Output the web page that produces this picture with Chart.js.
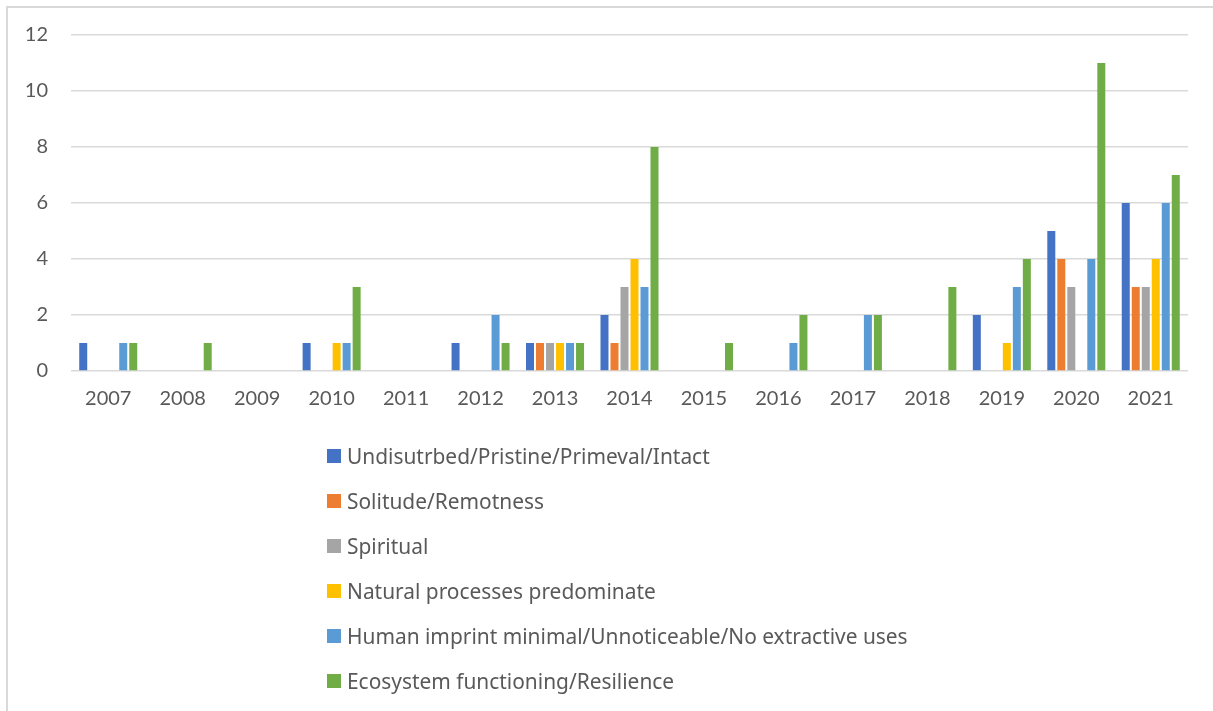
<!DOCTYPE html>
<html>
<head>
<meta charset="utf-8">
<script src="https://cdn.jsdelivr.net/npm/chart.js@4.4.1/dist/chart.umd.min.js"></script>
<style>
  html, body { margin: 0; padding: 0; background: #ffffff; }
  body { width: 1213px; height: 711px; position: relative; overflow: hidden; }
  #frame { position: absolute; left: 6px; top: 6px; width: 1400px; height: 900px;
           border-left: 2px solid #d9d9d9; border-top: 2px solid #d9d9d9; box-sizing: border-box; }
  #wrap { position: absolute; left: 0; top: 0; width: 1213px; height: 711px; }
  #legend { position: absolute; left: 327px; top: 0; margin: 0; padding: 0; list-style: none;
            font-family: "Noto Sans", Lato, sans-serif; font-size: 20.9px; color: #595959; }
  #legend li { position: absolute; left: 0; white-space: nowrap; display: flex; align-items: center; height: 28px; }
  #legend .box { width: 14px; height: 14px; margin-right: 6px; flex: none; }
</style>
</head>
<body>
<div id="frame"></div>
<div id="wrap"><canvas id="chart" width="1213" height="711"></canvas></div>
<ul id="legend"></ul>
<script>
// Years on the category axis
const years = ['2007','2008','2009','2010','2011','2012','2013','2014','2015','2016','2017','2018','2019','2020','2021'];

// Number of mentions per year for each wilderness attribute
const undisturbed = [1, 0, 0, 1, 0, 1, 1, 2, 0, 0, 0, 0, 2, 5, 6];
const solitude    = [0, 0, 0, 0, 0, 0, 1, 1, 0, 0, 0, 0, 0, 4, 3];
const spiritual   = [0, 0, 0, 0, 0, 0, 1, 3, 0, 0, 0, 0, 0, 3, 3];
const natural     = [0, 0, 0, 1, 0, 0, 1, 4, 0, 0, 0, 0, 1, 0, 4];
const humanMin    = [1, 0, 0, 1, 0, 2, 1, 3, 0, 1, 2, 0, 3, 4, 6];
const ecosystem   = [1, 1, 0, 3, 0, 1, 1, 8, 1, 2, 2, 3, 4, 11, 7];

const seriesNames = [
  'Undisutrbed/Pristine/Primeval/Intact',
  'Solitude/Remotness',
  'Spiritual',
  'Natural processes predominate',
  'Human imprint minimal/Unnoticeable/No extractive uses',
  'Ecosystem functioning/Resilience'
];
const seriesValues = [undisturbed, solitude, spiritual, natural, humanMin, ecosystem];
const seriesColors = ['#4472C4', '#ED7D31', '#A5A5A5', '#FFC000', '#5B9BD5', '#70AD47'];

const yTicks = [0, 2, 4, 6, 8, 10, 12];

const tickFont = { family: 'Lato, "Noto Sans", sans-serif', size: 20 };

const chart = new Chart(document.getElementById('chart'), {
  type: 'bar',
  data: {
    labels: years,
    datasets: seriesNames.map((name, i) => ({
      label: name,
      data: seriesValues[i],
      backgroundColor: seriesColors[i],
      borderWidth: 0,
      categoryPercentage: 0.806,
      barPercentage: 0.8
    }))
  },
  options: {
    responsive: false,
    animation: false,
    devicePixelRatio: 1,
    layout: { padding: { left: 0, right: 25, top: 32, bottom: 300 } },
    plugins: { legend: { display: false }, tooltip: { enabled: false } },
    scales: {
      x: {
        grid: { display: false, drawTicks: false },
        border: { display: false },
        ticks: { color: '#595959', font: tickFont, padding: 16, maxRotation: 0, autoSkip: false },
        afterFit: (s) => { s.height = 40; }
      },
      y: {
        min: 0, max: 12,
        afterBuildTicks: (s) => { s.ticks = yTicks.map(v => ({ value: v })); },
        grid: { color: '#d9d9d9', lineWidth: 1.5, drawTicks: false },
        border: { display: false },
        ticks: { color: '#595959', font: tickFont, padding: 23 },
        afterFit: (s) => { s.width = 71; }
      }
    }
  }
});

// Legend list built from the chart's datasets
const legend = document.getElementById('legend');
chart.data.datasets.forEach((ds, i) => {
  const li = document.createElement('li');
  li.style.top = (456 + 45 * i - 14) + 'px';
  const box = document.createElement('span');
  box.className = 'box';
  box.style.background = ds.backgroundColor;
  const txt = document.createElement('span');
  txt.textContent = ds.label;
  li.appendChild(box);
  li.appendChild(txt);
  legend.appendChild(li);
});
</script>
</body>
</html>
